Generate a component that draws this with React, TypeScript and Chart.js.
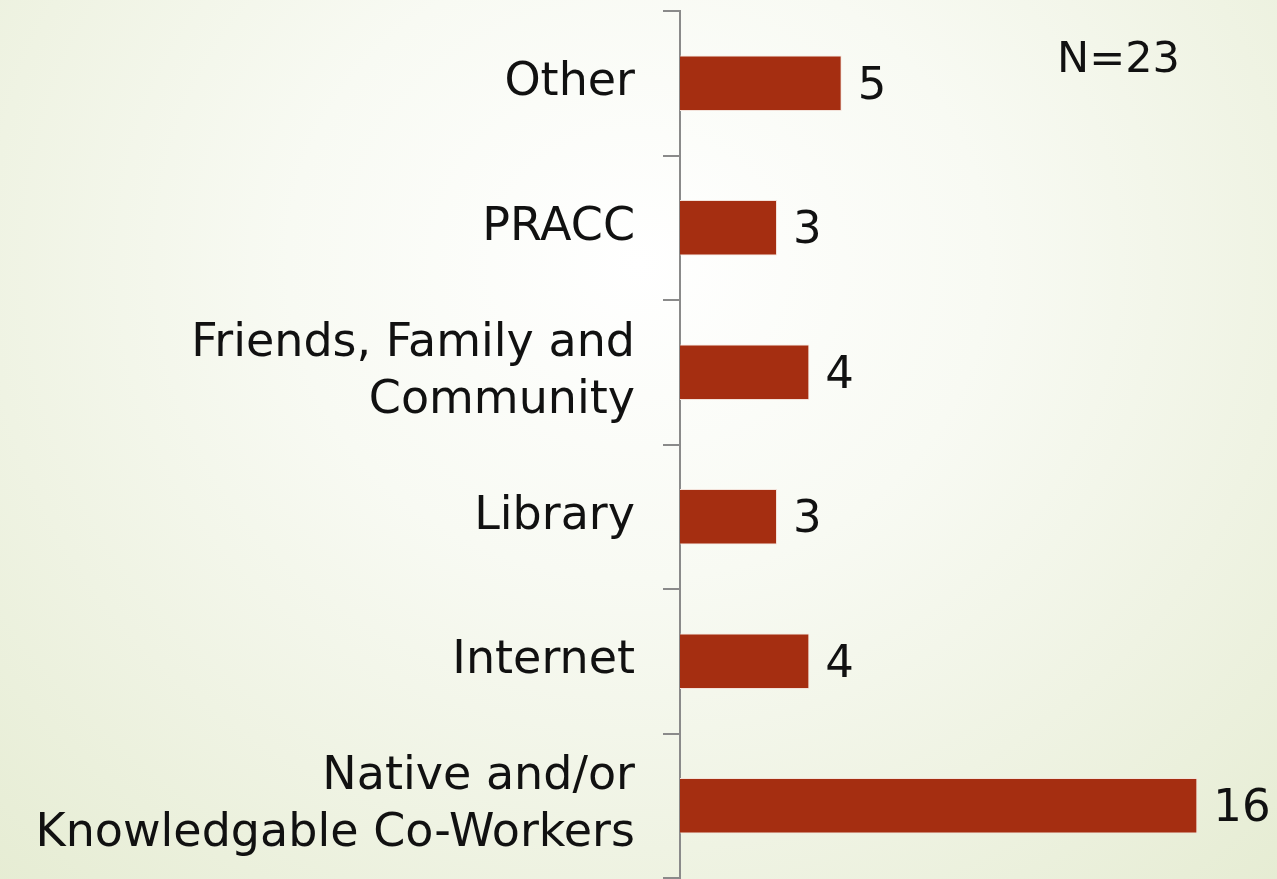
import React, { useEffect, useRef } from "react";
import { Chart, registerables } from "chart.js";

Chart.register(...registerables);

const categories: (string | string[])[] = [
  "Other",
  "PRACC",
  ["Friends, Family and", "Community"],
  "Library",
  "Internet",
  ["Native and/or", "Knowledgable Co-Workers"],
];
const counts: number[] = [5, 3, 4, 3, 4, 16];
const sampleNote = "N=23";

const FONT = "'DejaVu Sans', 'Open Sans', sans-serif";

const valueLabels = {
  id: "valueLabels",
  afterDatasetsDraw(chart: any) {
    const { ctx } = chart;
    const meta = chart.getDatasetMeta(0);
    ctx.save();
    ctx.fillStyle = "#111";
    ctx.font = `45px ${FONT}`;
    ctx.textAlign = "left";
    ctx.textBaseline = "middle";
    meta.data.forEach((bar: any, i: number) => {
      ctx.fillText(String(counts[i]), bar.x + 16, bar.y + 4);
    });
    ctx.font = `43px ${FONT}`;
    ctx.textBaseline = "alphabetic";
    ctx.fillText(sampleNote, 1057, 72);
    ctx.restore();
  },
};

export default function App() {
  const ref = useRef<HTMLCanvasElement | null>(null);
  useEffect(() => {
    if (!ref.current) return;
    const chart = new Chart(ref.current, {
      type: "bar",
      data: {
        labels: categories,
        datasets: [
          {
            data: counts,
            backgroundColor: "#A52E11",
            borderColor: "#f3e2da",
            borderWidth: 1,
            categoryPercentage: 1,
            barPercentage: 0.385,
          },
        ],
      },
      options: {
        indexAxis: "y",
        animation: false,
        responsive: false,
        maintainAspectRatio: false,
        layout: { padding: { top: 11, bottom: 1, right: 15, left: 0 } },
        plugins: { legend: { display: false }, tooltip: { enabled: false } },
        scales: {
          x: { display: false, min: 0, max: 18 },
          y: {
            afterFit(scale: any) {
              scale.width = 680;
              scale.paddingTop = 0;
              scale.paddingBottom = 0;
            },
            border: { display: true, color: "#8a8a8a", width: 2 },
            grid: {
              drawOnChartArea: false,
              drawTicks: true,
              tickLength: 17,
              color: "#8a8a8a",
              lineWidth: 2,
              offset: true,
            },
            ticks: {
              color: "#111",
              padding: 28,
              font: { family: FONT, size: 46, lineHeight: 1.24 },
            },
          },
        },
      },
      plugins: [valueLabels],
    });
    return () => chart.destroy();
  }, []);
  return (
    <div
      style={{
        position: "absolute",
        left: 0,
        top: 0,
        width: 1277,
        height: 879,
        background:
          "radial-gradient(ellipse 1000px 900px at 50% 30%, #ffffff 0%, #f8faf3 35%, #eff3e3 65%, #e4ebd0 100%)",
      }}
    >
      <canvas ref={ref} width={1277} height={879} style={{ display: "block" }} />
    </div>
  );
}
